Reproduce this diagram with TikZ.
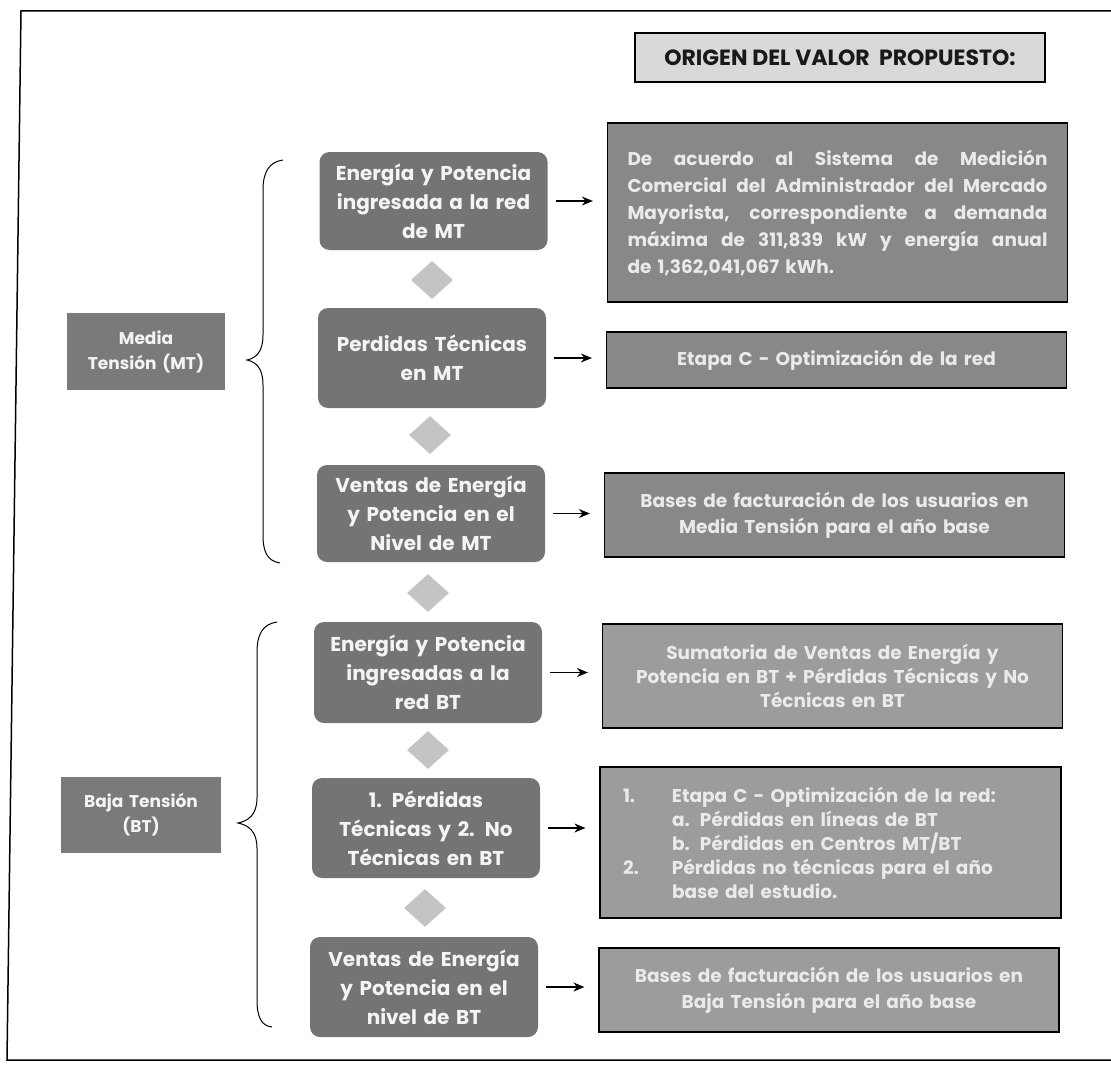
\documentclass[tikz,border=0pt]{standalone}
\usepackage{fontspec}
\setmainfont{Poppins}
\usetikzlibrary{shapes.geometric,arrows.meta}
\definecolor{midfill}{HTML}{747474}
\definecolor{leftfill}{HTML}{7A7A7A}
\definecolor{rdark}{HTML}{888888}
\definecolor{rlight}{HTML}{9C9C9C}
\definecolor{dmfill}{HTML}{C4C4C4}
\definecolor{titlefill}{HTML}{D9D9D9}
\definecolor{txtw}{HTML}{F4F4F4}
\definecolor{txtr}{HTML}{EAEAEA}
\tikzset{
  midbox/.style={draw=none, fill=midfill, rounded corners=10pt, minimum width=228pt, text width=222pt, inner sep=0pt, align=center, text=txtw, font=\fontsize{20}{29}\selectfont\bfseries},
  leftbox/.style={draw=none, fill=leftfill, minimum width=158pt, text width=154pt, minimum height=77pt, inner sep=0pt, align=center, text=txtw, font=\fontsize{17}{25}\selectfont\bfseries},
  rbox/.style={draw=black, line width=1.2pt, minimum width=460pt, inner xsep=20pt, inner ysep=0pt, text width=420pt, align=center, text=txtr, font=\fontsize{18.5}{26}\selectfont\bfseries},
  dmd/.style={diamond, fill=dmfill, draw=none, minimum width=42pt, minimum height=38pt, inner sep=0pt},
  arr/.style={line width=1.3pt, -{Stealth[length=11pt,width=9pt]}, shorten <=8pt, shorten >=14pt},
  brc/.style={line width=1pt, black},
  frm/.style={line width=1.5pt, black}
}
\newcommand{\jline}[1]{\leavevmode\hbox to 420pt{\spaceskip=0.28em plus 1fil\relax #1}}
\begin{document}
\begin{tikzpicture}[x=1pt,y=-1pt]
\useasboundingbox (0,0) rectangle (1111,1065);
% frame
\draw[frm] (1130,11) -- (21,11) -- (7,1060) -- (1130,1060);
% title
\node[draw=black, line width=1.2pt, fill=titlefill, minimum width=410pt, minimum height=49pt, inner sep=0pt, text=black!90, font=\fontsize{22}{26}\selectfont\bfseries] (title) at (840,57.5) {ORIGEN DEL VALOR~~PROPUESTO:};
% left labels
\node[leftbox] (mt) at (146,351.5) {Media\\Tensión (MT)};
\node[leftbox, minimum width=160pt, minimum height=76pt] (bt) at (141,815) {Baja Tensión\\(BT)};
% middle boxes
\node[midbox, minimum height=98pt] (m1) at (433.5,201) {Energía y Potencia\\ingresada a la red\\de MT};
\node[midbox, minimum height=100pt] (m2) at (432,358) {Perdidas Técnicas\\en MT};
\node[midbox, minimum height=97pt] (m3) at (431,513.5) {Ventas de Energía\\y Potencia en el\\Nivel de MT};
\node[midbox, minimum height=101pt] (b1) at (428,672.5) {Energía y Potencia\\ingresadas a la\\red BT};
\node[midbox, minimum height=100pt] (b2) at (426,828) {1. Pérdidas\\Técnicas y 2. No\\Técnicas en BT};
\node[midbox, minimum height=100pt] (b3) at (424,987) {Ventas de Energía\\y Potencia en el\\nivel de BT};
% diamonds
\node[dmd] (d1) at (432,280) {};
\node[dmd] (d2) at (430,435) {};
\node[dmd] (d3) at (428,593) {};
\node[dmd] (d4) at (428,750) {};
\node[dmd] (d5) at (425,908) {};
% right boxes
\node[rbox, fill=rdark, minimum height=179pt, align=left, font=\fontsize{18.5}{27}\selectfont\bfseries] (r1) at (837.5,212.5) {\jline{De acuerdo al Sistema de Medición}\\\jline{Comercial del Administrador del Mercado}\\\jline{Mayorista, correspondiente a demanda}\\\jline{máxima de 311,839 kW y energía anual}\\de 1,362,041,067 kWh.};
\node[rbox, fill=rdark, minimum height=56pt] (r2) at (836.5,360) {Etapa C - Optimización de la red};
\node[rbox, fill=rdark, minimum height=84pt] (r3) at (834.5,515) {Bases de facturación de los usuarios en\\Media Tensión para el año base};
\node[rbox, fill=rlight, minimum height=104pt, font=\fontsize{18.5}{24}\selectfont\bfseries] (r4) at (832.5,676) {Sumatoria de Ventas de Energía y\\Potencia en BT + Pérdidas Técnicas y No\\Técnicas en BT};
\node[rbox, fill=rlight, minimum height=151pt, minimum width=461pt, inner xsep=23pt, text width=415pt, align=left, font=\fontsize{18.5}{24}\selectfont\bfseries] (r5) at (830.5,842.5) {\makebox[49pt][l]{1.}Etapa C - Optimización de la red:\\\hspace*{49pt}\makebox[28pt][l]{a.}Pérdidas en líneas de BT\\\hspace*{49pt}\makebox[28pt][l]{b.}Pérdidas en Centros MT/BT\\\makebox[49pt][l]{2.}Pérdidas no técnicas para el año\\\hspace*{49pt}base del estudio.};
\node[rbox, fill=rlight, minimum height=84pt] (r6) at (829,990) {Bases de facturación de los usuarios en\\Baja Tensión para el año base};
% arrows
\draw[arr] (m1.east) -- (m1.east -| r1.west);
\draw[arr] (m2.east) -- (m2.east -| r2.west);
\draw[arr] (m3.east) -- (m3.east -| r3.west);
\draw[arr] (b1.east) -- (b1.east -| r4.west);
\draw[arr] (b2.east) -- (b2.east -| r5.west);
\draw[arr] (b3.east) -- (b3.east -| r6.west);
% braces
\draw[brc] (283,160) .. controls (269,162) and (263,172) .. (263,190) -- (263,335) .. controls (263,352) and (256,358) .. (247,360) .. controls (256,362) and (263,368) .. (263,385) -- (263,535) .. controls (263,553) and (268,561) .. (280,563);
\draw[brc] (277,622) .. controls (263,624) and (257,634) .. (257,652) -- (257,798) .. controls (257,815) and (248,821) .. (238,823) .. controls (248,825) and (257,831) .. (257,848) -- (257,1000) .. controls (257,1018) and (262,1026) .. (272,1027);
\end{tikzpicture}
\end{document}
